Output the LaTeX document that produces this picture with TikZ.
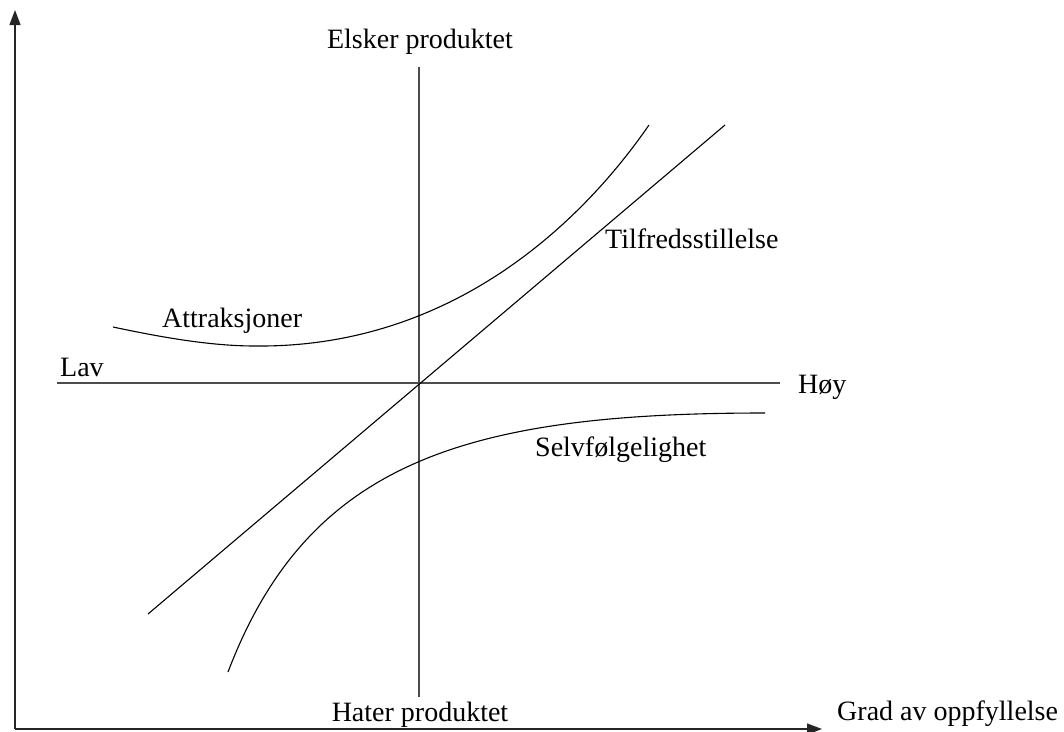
\documentclass[tikz,border=0pt]{standalone}
\usepackage{fontspec}
\setmainfont{Liberation Serif}
\usetikzlibrary{arrows.meta}
\tikzset{
  axis/.style={-{Triangle[length=15pt,width=11pt]},line width=1.3pt,draw=black!85},
  guide/.style={line width=1.3pt,draw=black!70},
  curve/.style={line width=1.1pt,draw=black},
  lbl/.style={inner sep=0pt,font=\fontsize{28}{32}\selectfont}
}

\begin{document}
\begin{tikzpicture}[x=1pt,y=-1pt]
  \useasboundingbox (0,0) rectangle (1064,731);

  % axes
  \coordinate (origin) at (15,729);
  \coordinate (ytip) at (15,10);
  \coordinate (xtip) at (822,729);
  \draw[axis] (origin) -- (ytip);
  \draw[axis] (origin) -- (xtip);
  \node[lbl,anchor=base west] (grad) at (837,720) {Grad av oppfyllelse};

  % cross
  \node[lbl,anchor=base] (elsker) at (420,48) {Elsker produktet};
  \node[lbl,anchor=base] (hater) at (420,721) {Hater produktet};
  \node[lbl,anchor=base west] (lav) at (60,376) {Lav};
  \node[lbl,anchor=base west] (hoy) at (798,393) {Høy};
  \coordinate (top) at (419,67);
  \coordinate (bottom) at (419,697);
  \coordinate (left) at (57,383);
  \coordinate (right) at (780,383);
  \draw[guide] (top) -- (bottom);
  \draw[guide] (left) -- (right);

  % curves
  \coordinate (tstart) at (148,614);
  \coordinate (tend) at (725,125);
  \draw[curve] (tstart) -- (tend);
  \node[lbl,anchor=base west] (tilfreds) at (605,248) {Tilfredsstillelse};

  \coordinate (astart) at (113,327);
  \coordinate (amin) at (255,346);
  \coordinate (aend) at (649,125);
  \draw[curve] (astart) .. controls (160,337) and (210,346) .. (amin)
    .. controls (450,348) and (580,225) .. (aend);
  \node[lbl,anchor=base west] (attr) at (162,327) {Attraksjoner};

  \coordinate (sstart) at (228,672);
  \coordinate (send) at (765,413);
  \draw[curve] (sstart) .. controls (308,462) and (465,413) .. (send);
  \node[lbl,anchor=base west] (selv) at (535,456) {Selvfølgelighet};
\end{tikzpicture}
\end{document}
